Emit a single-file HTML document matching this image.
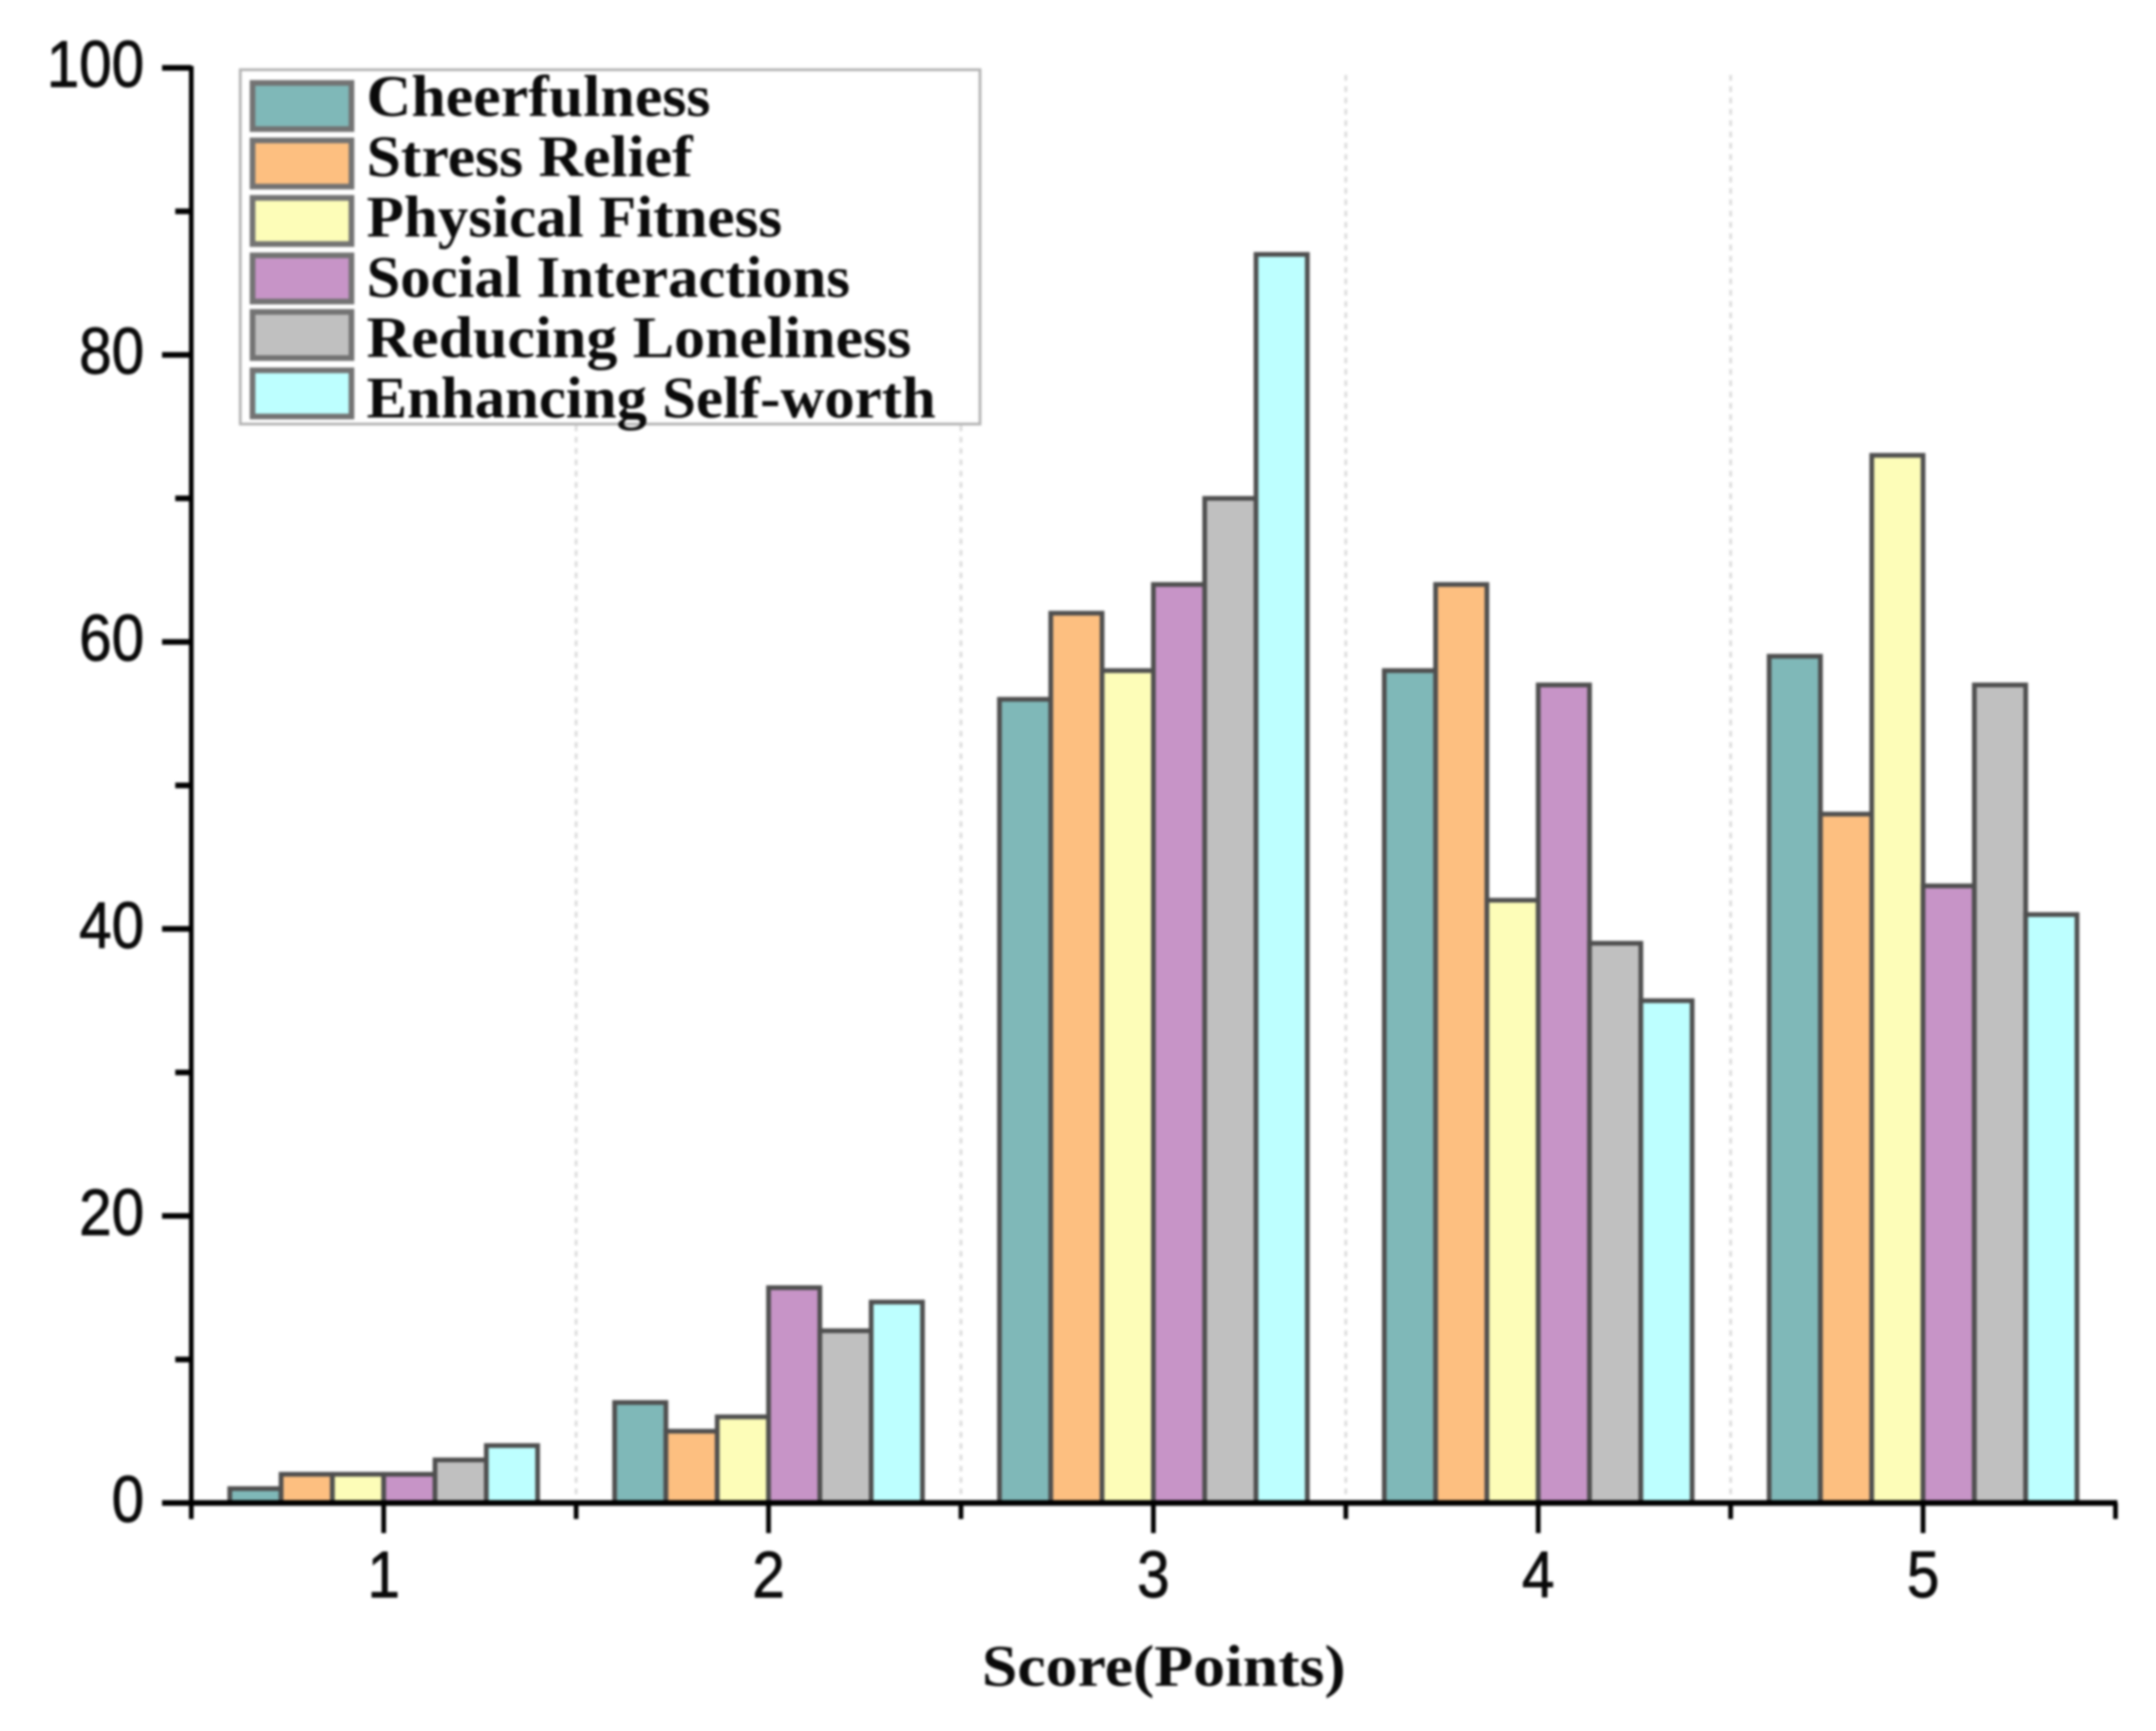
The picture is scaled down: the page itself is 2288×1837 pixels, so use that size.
<!DOCTYPE html>
<html lang="en">
<head>
<meta charset="utf-8">
<title>Score distribution chart</title>
<style>
  html, body { margin: 0; padding: 0; background: #ffffff; }
  #chart { display: block; width: 2288px; height: 1837px; filter: blur(1.4px); }
  .sans { font-family: "Liberation Sans", Arial, sans-serif; fill: #0a0a0a; stroke: #0a0a0a; stroke-width: 0.8px; }
  .serif { font-family: "Liberation Serif", "DejaVu Serif", serif; font-weight: 700; fill: #0a0a0a; }
</style>
</head>
<body>
<svg id="chart" xmlns="http://www.w3.org/2000/svg" width="2288" height="1837" viewBox="0 0 2288 1837">
  <rect x="0" y="0" width="2288" height="1837" fill="#ffffff"/>
  <g id="grid"></g>
  <g id="bars"></g>
  <g id="axes"></g>

  <g>
    <rect x="255" y="74" width="785" height="376" fill="#ffffff" stroke="#b4b4b4" stroke-width="3"/>
    <g>
      <rect x="268" y="88" width="105" height="49" fill="#7fb8b8" stroke="#737373" stroke-width="6"/>
      <text class="serif" x="389" y="123" font-size="62" textLength="365" lengthAdjust="spacingAndGlyphs">Cheerfulness</text>
    </g>
    <g>
      <rect x="268" y="149" width="105" height="49" fill="#fdbf80" stroke="#737373" stroke-width="6"/>
      <text class="serif" x="389" y="187" font-size="62" textLength="346" lengthAdjust="spacingAndGlyphs">Stress Relief</text>
    </g>
    <g>
      <rect x="268" y="210" width="105" height="49" fill="#fdfdb8" stroke="#737373" stroke-width="6"/>
      <text class="serif" x="389" y="251" font-size="62" textLength="441" lengthAdjust="spacingAndGlyphs">Physical Fitness</text>
    </g>
    <g>
      <rect x="268" y="271" width="105" height="49" fill="#c794c7" stroke="#737373" stroke-width="6"/>
      <text class="serif" x="389" y="315" font-size="62" textLength="513" lengthAdjust="spacingAndGlyphs">Social Interactions</text>
    </g>
    <g>
      <rect x="268" y="331" width="105" height="49" fill="#c0c0c0" stroke="#737373" stroke-width="6"/>
      <text class="serif" x="389" y="379" font-size="62" textLength="578" lengthAdjust="spacingAndGlyphs">Reducing Loneliness</text>
    </g>
    <g>
      <rect x="268" y="393" width="105" height="49" fill="#bdffff" stroke="#737373" stroke-width="6"/>
      <text class="serif" x="389" y="443" font-size="62" textLength="604" lengthAdjust="spacingAndGlyphs">Enhancing Self-worth</text>
    </g>
  </g>

  <text class="serif" x="1048" y="1789" font-size="62" textLength="386" lengthAdjust="spacingAndGlyphs" transform="translate(-6 0)">Score(Points)</text>
</svg>

<script>
const categories = [1, 2, 3, 4, 5];
const cheerfulness = [1, 7, 56, 58, 59];
const stressRelief = [2, 5, 62, 64, 48];
const physicalFitness = [2, 6, 58, 42, 73];
const socialInteractions = [2, 15, 64, 57, 43];
const reducingLoneliness = [3, 12, 70, 39, 57];
const enhancingSelfWorth = [4, 14, 87, 35, 41];
const seriesNames = ['cheerfulness', 'stress-relief', 'physical-fitness', 'social-interactions', 'reducing-loneliness', 'enhancing-self-worth'];
const seriesColors = ['#7fb8b8', '#fdbf80', '#fdfdb8', '#c794c7', '#c0c0c0', '#bdffff'];
const yTickLabels = ['0', '20', '40', '60', '80', '100'];
const yMinorTicks = [10, 30, 50, 70, 90];
const xMinorTicks = [0.5, 1.5, 2.5, 3.5, 4.5, 5.5];
const gridPositions = [1.5, 2.5, 3.5, 4.5];

const seriesValues = [cheerfulness, stressRelief, physicalFitness, socialInteractions, reducingLoneliness, enhancingSelfWorth];
const NS = 'http://www.w3.org/2000/svg';
const yMin = 0, yMax = 100, xMin = 0.5, xMax = 5.5;
const plotLeft = 203, plotRight = 2245, plotTop = 72, plotBottom = 1595;

function xScale(v) { return plotLeft + (v - xMin) / (xMax - xMin) * (plotRight - plotLeft); }
function yScale(v) { return plotBottom - (v - yMin) / (yMax - yMin) * (plotBottom - plotTop); }
function make(tag, parent) { const el = document.createElementNS(NS, tag); parent.appendChild(el); return el; }
function line(el, x1, y1, x2, y2, width, color) {
  el.setAttribute('x1', x1); el.setAttribute('y1', y1);
  el.setAttribute('x2', x2); el.setAttribute('y2', y2);
  el.setAttribute('stroke', color); el.setAttribute('stroke-width', width);
}

const gridLayer = document.getElementById('grid');
const barLayer = document.getElementById('bars');
const axisLayer = document.getElementById('axes');

gridPositions.forEach(function (g) {
  const el = make('line', gridLayer);
  
  
  line(el, xScale(g), yScale(99.5), xScale(g), plotBottom - 6, 3, '#dcdcdc');
  el.setAttribute('stroke-dasharray', '6 6');
});

const groupFraction = 0.8;
const barWidthUnits = groupFraction / seriesValues.length;
seriesValues.forEach(function (values, s) {
  values.forEach(function (value, c) {
    const x0 = xScale(categories[c] - groupFraction / 2 + s * barWidthUnits);
    const x1 = xScale(categories[c] - groupFraction / 2 + (s + 1) * barWidthUnits);
    const el = make('rect', barLayer);
    
    
    el.setAttribute('x', x0);
    el.setAttribute('y', yScale(value));
    el.setAttribute('width', x1 - x0);
    el.setAttribute('height', yScale(0) - yScale(value));
    el.setAttribute('fill', seriesColors[s]);
    el.setAttribute('stroke', '#4e4e4e');
    el.setAttribute('stroke-width', 5);
  });
});

const yAxisLine = make('line', axisLayer);


line(yAxisLine, plotLeft, plotTop - 2, plotLeft, plotBottom + 3, 5, '#000');

const xAxisLine = make('line', axisLayer);


line(xAxisLine, 172, plotBottom, plotRight + 2, plotBottom, 6, '#000');

yTickLabels.forEach(function (label) {
  const v = Number(label);
  const tick = make('line', axisLayer);
  
  
  line(tick, 172, yScale(v), plotLeft, yScale(v), 6, '#000');
  const t = make('text', axisLayer);
  
  
  t.setAttribute('class', 'sans');
  t.setAttribute('transform', 'translate(153 ' + (yScale(v) + 20) + ') scale(1 1.12)');
  t.setAttribute('font-size', 62);
  t.setAttribute('text-anchor', 'end');
  t.textContent = label;
});

yMinorTicks.forEach(function (v) {
  const tick = make('line', axisLayer);
  
  
  line(tick, 186, yScale(v), plotLeft, yScale(v), 6, '#000');
});

categories.forEach(function (c) {
  const tick = make('line', axisLayer);
  
  
  line(tick, xScale(c), plotBottom, xScale(c), 1627, 5, '#000');
  const t = make('text', axisLayer);
  
  
  t.setAttribute('class', 'sans');
  t.setAttribute('transform', 'translate(' + xScale(c) + ' 1695) scale(1 1.12)');
  t.setAttribute('font-size', 62);
  t.setAttribute('text-anchor', 'middle');
  t.textContent = String(c);
});

xMinorTicks.forEach(function (v) {
  const tick = make('line', axisLayer);
  
  
  line(tick, xScale(v), plotBottom, xScale(v), 1612, 5, '#000');
});
</script>
</body>
</html>
